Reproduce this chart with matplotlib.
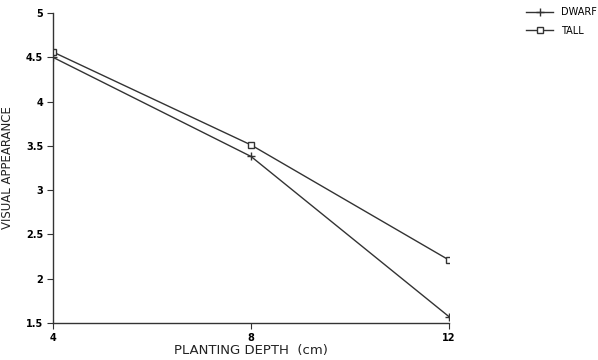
import matplotlib
matplotlib.use("Agg")
from matplotlib import pyplot as plt

depth = [4, 8, 12]
dwarf = [4.50, 3.38, 1.57]
tall = [4.56, 3.51, 2.21]
y_ticks = [1.5, 2, 2.5, 3, 3.5, 4, 4.5, 5]
y_labels = ["1.5", "2", "2.5", "3", "3.5", "4", "4.5", "5"]

plt.rcParams['font.family'] = ['DejaVu Sans']

fig = plt.figure(figsize=(5.98, 3.60), dpi=100)
ax = fig.add_axes([0.0886, 0.1028, 0.6625, 0.861])

ax.plot(depth, dwarf, color="#333333", lw=1.0, marker="+", markersize=6,
        mew=1.0, label="DWARF")
ax.plot(depth, tall, color="#333333", lw=1.0, marker="s", markersize=4,
        mfc="white", mew=1.0, label="TALL")

ax.set_xlim(4, 12)
ax.set_ylim(1.5, 5)
ax.set_xticks(depth)
ax.set_xticklabels([str(d) for d in depth], fontsize=7, fontweight="bold")
ax.set_yticks(y_ticks)
ax.set_yticklabels(y_labels, fontsize=7, fontweight="bold")
ax.tick_params(direction="out", length=4, width=0.8, color="#333333", pad=3)

for side in ["top", "right"]:
    ax.spines[side].set_visible(False)
for side in ["left", "bottom"]:
    ax.spines[side].set_color("#333333")
    ax.spines[side].set_linewidth(1.0)

ax.set_xlabel("PLANTING DEPTH  (cm)", fontsize=9.5, labelpad=1, color="#222222")
ax.set_ylabel("VISUAL APPEARANCE", fontsize=8.5, labelpad=9, color="#222222",
              family=["Liberation Sans Narrow", "DejaVu Sans"])

fig.legend(loc="upper left", bbox_to_anchor=(0.865, 1.005), frameon=False,
           fontsize=7, handlelength=2.8, labelspacing=0.9, handletextpad=0.8)

fig.savefig("out.png", dpi=100)
